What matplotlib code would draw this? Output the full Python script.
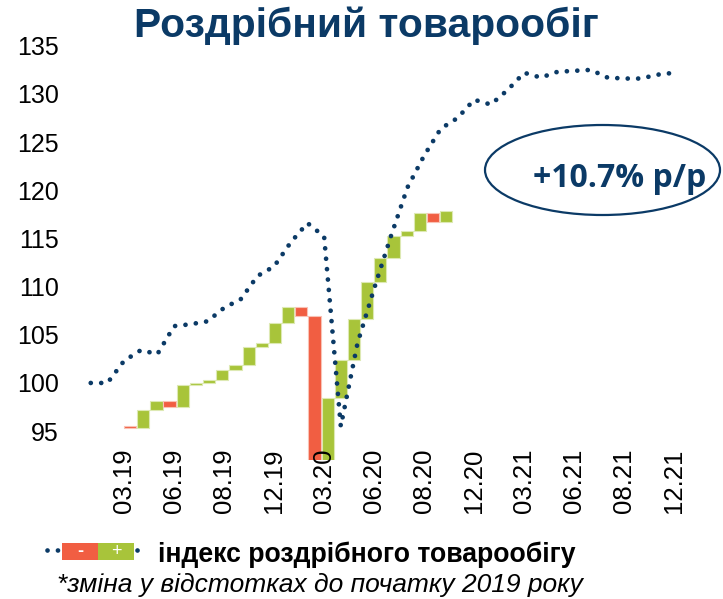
import numpy as np
import matplotlib
matplotlib.use('Agg')
import matplotlib.pyplot as plt
from matplotlib.patches import Ellipse, Rectangle
from matplotlib.lines import Line2D
from matplotlib import font_manager as fm

# індекс роздрібного товарообігу, 01.19 .. 12.21 (01.2019 = 100)
index_values = [100.0, 100.0, 102.3, 103.4, 103.0, 105.9, 106.1, 106.4, 107.8, 108.7,
                111.1, 112.1, 114.6, 116.6, 115.2, 95.5, 104.1, 109.8, 115.2, 120.3,
                123.6, 126.4, 127.5, 129.4, 128.9, 130.4, 132.2, 131.7, 132.3, 132.4,
                132.5, 131.7, 131.6, 131.6, 132.0, 132.2]
tick_pos = [2, 5, 8, 11, 14, 17, 20, 23, 26, 29, 32, 35]
tick_labels = ['03.19', '06.19', '08.19', '12.19', '03.20', '06.20',
               '08.20', '12.20', '03.21', '06.21', '08.21', '12.21']

# водоспад: зміна, в.п.
wf_start = 95.5
wf_changes = [-0.2, 1.9, 0.9, -0.6, 2.3, 0.2, 0.3, 1.0, 0.6, 1.8, 0.5, 2.0, 1.7,
              -1.0, -18.8, 10.3, 4.0, 4.2, 3.9, 2.5, 2.3, 0.5, 1.8, -0.9, 1.1]

navy = '#0b3a66'
red = '#f15e42'
green = '#a8c43a'

names = {f.name for f in fm.fontManager.ttflist}
narrow = 'Liberation Sans Narrow' if 'Liberation Sans Narrow' in names else 'Liberation Sans'
plt.rcParams['font.family'] = ['Liberation Sans', 'DejaVu Sans']

W, H = 723, 599
fig = plt.figure(figsize=(W / 100, H / 100), dpi=100)
ax = fig.add_axes([0.114, 0.232, 0.830, 0.698])

# бари
changes = np.array(wf_changes)
levels = wf_start + np.cumsum(changes)
prev = levels - changes
cols = [green if c > 0 else red for c in changes]
edges = ['#dde9b3' if c > 0 else '#f9c2b5' for c in changes]
ax.bar(np.arange(len(changes)), changes, bottom=prev, width=0.93,
       color=cols, edgecolor=edges, linewidth=0.8)
ax.set_xlim(-3.62, 41.94)
ax.set_ylim(92, 135.4)
ax.set_xticks([])
ax.set_yticks(range(95, 136, 5))
ax.tick_params(axis='y', length=0, pad=17, labelsize=18)

# лінія
dots = (0, (0.01, 2.2))
axl = ax.twiny()
axl.plot(np.arange(len(index_values)), index_values, color=navy, lw=3.4,
         linestyle=dots, dash_capstyle='round')
axl.set_xlim(-0.5, 35.5)
axl.xaxis.tick_bottom()
axl.set_xticks(tick_pos)
axl.set_xticklabels(tick_labels, rotation=90)
axl.tick_params(axis='x', length=0, pad=-8.5, labelsize=18.5)
for a in (ax, axl):
    for s in a.spines.values():
        s.set_visible(False)

fig.text(366 / W, 1 - 37 / H, 'Роздрібний товарообіг', ha='center', va='baseline',
         fontsize=29.3, fontweight='bold', color=navy)

# овал
fig.add_artist(Ellipse((602.5 / W, 1 - 170 / H), 235 / W, 90 / H, transform=fig.transFigure,
                       fill=False, edgecolor=navy, lw=1.6))
fig.text(533 / W, 1 - 186.7 / H, '+10.7% p/p', ha='left', va='baseline',
         fontsize=23, fontweight='bold', color=navy, family=['Open Sans', 'DejaVu Sans'])

# легенда
ly = 1 - 550 / H
for x0, x1 in [(47, 58), (137, 147)]:
    fig.add_artist(Line2D([x0 / W, x1 / W], [ly, ly], transform=fig.transFigure, color=navy,
                          lw=3.4, linestyle=dots, dash_capstyle='round'))
fig.add_artist(Rectangle((62 / W, 1 - 560 / H), 36 / W, 17 / H, transform=fig.transFigure,
                         color=red, lw=0))
fig.add_artist(Rectangle((98 / W, 1 - 560 / H), 36 / W, 17 / H, transform=fig.transFigure,
                         color=green, lw=0))
fig.text(80 / W, 1 - 551 / H, '-', ha='center', va='center', color='white', fontsize=13,
         fontweight='bold')
fig.text(116 / W, 1 - 551 / H, '+', ha='center', va='center', color='white', fontsize=13)
fig.text(158 / W, 1 - 562 / H, 'індекс роздрібного товарообігу', ha='left', va='baseline',
         fontsize=19.2, fontweight='bold', color='black', family=[narrow, 'DejaVu Sans'])
fig.text(57 / W, 1 - 592 / H, '*зміна у відстотках до початку 2019 року', ha='left',
         va='baseline', fontsize=19, style='italic', color='black',
         family=[narrow, 'DejaVu Sans'])

fig.savefig('out.png', dpi=100)
